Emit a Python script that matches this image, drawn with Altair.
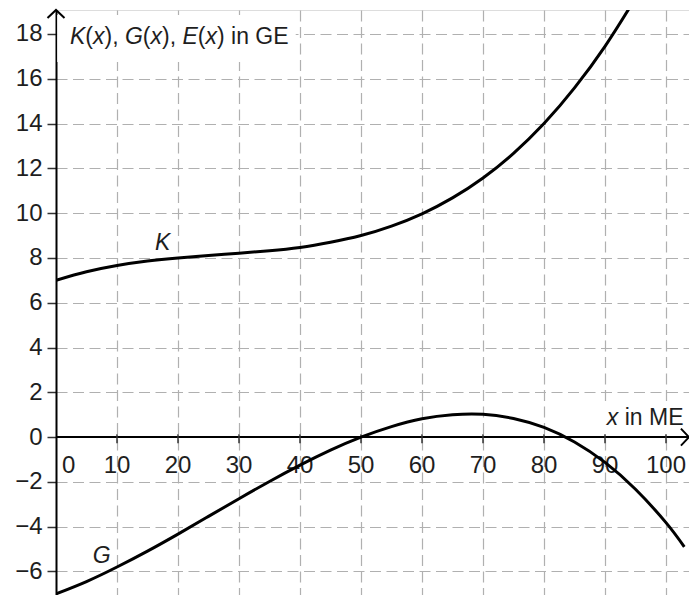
import altair as alt
import pandas as pd

# ---------------- data ----------------
x_k = [0, 5, 10, 15, 20, 25, 30, 35, 40, 45, 50, 55, 60, 65, 70, 75, 80, 85, 90, 94]
k_vals = [7.0, 7.38, 7.66, 7.86, 8.0, 8.11, 8.21, 8.32, 8.47, 8.70, 9.0, 9.42, 9.97,
          10.68, 11.57, 12.67, 14.0, 15.59, 17.45, 19.16]

x_g = [0, 5, 10, 15, 20, 25, 30, 35, 40, 45, 50, 55, 60, 65, 70, 75, 80, 85, 90, 95, 100, 103]
g_vals = [-7.0, -6.45, -5.80, -5.09, -4.33, -3.54, -2.75, -1.98, -1.25, -0.58, 0.0, 0.47,
          0.82, 1.00, 1.02, 0.83, 0.43, -0.22, -1.13, -2.33, -3.82, -4.9]

x_ticks = [0, 10, 20, 30, 40, 50, 60, 70, 80, 90, 100]
y_ticks = [-6, -4, -2, 0, 2, 4, 6, 8, 10, 12, 14, 16, 18]

# ---------------- layout ----------------
FONT = "Liberation Sans"
PADL = 48
W, H = 681 - PADL, 585
PXU = 6.1  # pixels per x unit
XMAX = W / PXU
YMIN, YMAX = -7.05, 19.07
GRID = "#b0b0b0"
TXT = "#1e1e1e"
FS_LAB = 24
FS_T = 23

xs = alt.Scale(domain=[0, XMAX], nice=False, zero=False)
ys = alt.Scale(domain=[YMIN, YMAX], nice=False, zero=False)

xaxis = alt.Axis(values=x_ticks[1:], grid=True, gridDash=[11, 5.5], gridColor=GRID,
                 gridWidth=1.2, labels=False, ticks=False, domain=False, title=None)
yaxis = alt.Axis(values=y_ticks, grid=True, gridDash=[11, 5.5], gridColor=GRID,
                 gridWidth=1.2, domainColor="black", domainWidth=2, tickColor="#333333",
                 tickSize=9, tickWidth=1.5, labelFontSize=FS_LAB, labelColor=TXT,
                 labelFont=FONT, labelPadding=5, title=None)


def X(f):
    return alt.X(f, type="quantitative", scale=xs, axis=xaxis)


def Y(f):
    return alt.Y(f, type="quantitative", scale=ys, axis=yaxis)


curves = pd.DataFrame({
    "x": x_k + x_g,
    "v": k_vals + g_vals,
    "fn": ["K"] * len(x_k) + ["G"] * len(x_g),
})

lines = alt.Chart(curves).mark_line(color="black", strokeWidth=3, interpolate="natural",
                                    clip=True).encode(x=X("x"), y=Y("v"), detail="fn:N")

# white boxes behind the axis titles
boxes = pd.DataFrame({"x": [0.2, 87.5], "x2": [39.3, XMAX], "y": [16.75, 0.12], "y2": [18.85, 1.6]})
box_layer = alt.Chart(boxes).mark_rect(color="white").encode(
    x=X("x"), x2="x2", y=Y("y"), y2="y2")

# x axis at y = 0
xline = pd.DataFrame({"x": [0], "x2": [XMAX], "y": [0]})
xaxis_line = alt.Chart(xline).mark_rule(color="black", strokeWidth=2).encode(
    x=X("x"), x2="x2", y=Y("y"))

tick_df = pd.DataFrame({"x": x_ticks[1:], "y": [0.13] * 10, "y2": [-0.27] * 10,
                        "lab": [str(v) for v in x_ticks[1:]], "y0": [0] * 10})
tick_marks = alt.Chart(tick_df).mark_rule(color="#333333", strokeWidth=1.5).encode(
    x=X("x"), y=Y("y"), y2="y2")
tick_labels = alt.Chart(tick_df).mark_text(font=FONT, fontSize=FS_LAB, color=TXT, align="center",
                                           baseline="alphabetic", dy=36).encode(
    x=X("x"), y=Y("y0"), text="lab:N")
zero_df = pd.DataFrame({"x": [0], "y0": [0], "lab": ["0"]})
zero_label = alt.Chart(zero_df).mark_text(font=FONT, fontSize=FS_LAB, color=TXT, align="left",
                                          baseline="alphabetic", dx=6, dy=36).encode(
    x=X("x"), y=Y("y0"), text="lab:N")

# mixed italic / upright axis titles
EM = {"K": .667, "(": .333, "x": .5, ")": .333, ",": .278, " ": .278, "G": .778, "E": .667,
      "i": .222, "n": .556, "M": .833}


def pieces_df(pieces, x0, y0):
    rows = []
    off = 0.0
    for s, it in pieces:
        lead = (len(s) - len(s.lstrip())) * EM[" "] * FS_T
        rows.append({"x": x0 + (off + lead) / PXU, "y": y0, "s": s.strip(), "it": it})
        off += sum(EM[c] for c in s) * FS_T
    return pd.DataFrame(rows)


ytitle = pieces_df([("K", True), ("(", False), ("x", True), ("), ", False), ("G", True),
                    ("(", False), ("x", True), ("), ", False), ("E", True), ("(", False),
                    ("x", True), (") in GE", False)], 2.3, 17.57)
xtitle = pieces_df([("x", True), (" in ME", False)], 90.3, 0.54)
titles = pd.concat([ytitle, xtitle], ignore_index=True)

t_it = alt.Chart(titles[titles["it"]]).mark_text(
    font=FONT, fontSize=FS_T, fontStyle="italic", color=TXT, align="left",
    baseline="alphabetic").encode(x=X("x"), y=Y("y"), text="s:N")
t_up = alt.Chart(titles[~titles["it"]]).mark_text(
    font=FONT, fontSize=FS_T, color=TXT, align="left",
    baseline="alphabetic").encode(x=X("x"), y=Y("y"), text="s:N")

# curve names
names = pd.DataFrame({"x": [17.5, 7.5], "y": [8.35, -5.63], "s": ["K", "G"]})
name_layer = alt.Chart(names).mark_text(font=FONT, fontSize=FS_T, fontStyle="italic", color=TXT,
                                        align="center", baseline="alphabetic").encode(
    x=X("x"), y=Y("y"), text="s:N")

# arrow heads
up_df = pd.DataFrame({"x": [0], "y": [YMAX]})
up_arrow = alt.Chart(up_df).mark_point(shape="M-1,0.95L0,0L1,0.95", size=289, filled=False,
                                       color="black", strokeWidth=2, opacity=1).encode(
    x=X("x"), y=Y("y"))
rt_df = pd.DataFrame({"x": [XMAX], "y": [0]})
rt_arrow = alt.Chart(rt_df).mark_point(shape="M-0.95,-1L0,0L-0.95,1", size=289, filled=False,
                                       color="black", strokeWidth=2, opacity=1).encode(
    x=X("x"), y=Y("y"))

chart = alt.layer(
    box_layer, xaxis_line, tick_marks, tick_labels, zero_label, lines,
    t_it, t_up, name_layer, up_arrow, rt_arrow
).properties(
    width=W, height=H,
    padding={"left": PADL, "top": 2, "right": 0, "bottom": 0},
    autosize=alt.AutoSizeParams(type="none"),
).configure_view(stroke=None).configure(font=FONT)

chart.save("out.html", embed_options={"renderer": "svg", "actions": False})
